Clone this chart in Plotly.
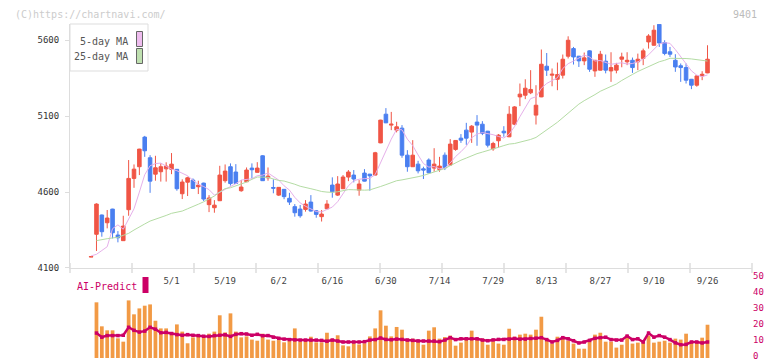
import plotly.graph_objects as go
import pandas as pd

# ---------------- data ----------------
opens = [4172, 4322, 4449, 4398, 4488, 4317, 4280, 4484, 4690, 4767,
         4962, 4826, 4718, 4734, 4753, 4750, 4750, 4589, 4665, 4679,
         4635, 4659, 4517, 4497, 4543, 4675, 4767, 4732, 4609, 4668,
         4758, 4730, 4839, 4694, 4630, 4580, 4618, 4559, 4504, 4488,
         4486, 4534, 4477, 4438, 4490, 4646, 4580, 4622, 4699, 4712,
         4613, 4725, 4718, 4712, 4924, 5113, 5041, 5008, 5021, 4843,
         4767, 4784, 4753, 4811, 4758, 4749, 4843, 4778, 4881, 4955,
         5008, 4995, 5061, 5047, 5001, 4885, 4938, 5001, 4964, 5047,
         5227, 5238, 5254, 5107, 5227, 5429, 5370, 5343, 5370, 5495,
         5545, 5495, 5464, 5530, 5398, 5403, 5462, 5398, 5403, 5475,
         5458, 5468, 5458, 5480, 5589, 5567, 5705, 5585, 5524, 5468,
         5432, 5420, 5343, 5304, 5365, 5385]
highs = [4175, 4526, 4452, 4482, 4490, 4343, 4444, 4811, 4782, 4885,
         4970, 4843, 4839, 4789, 4796, 4857, 4752, 4684, 4701, 4690,
         4675, 4662, 4580, 4547, 4773, 4782, 4789, 4784, 4679, 4762,
         4789, 4797, 4843, 4762, 4684, 4633, 4620, 4595, 4521, 4515,
         4547, 4580, 4482, 4482, 4547, 4697, 4705, 4712, 4745, 4745,
         4679, 4751, 4720, 4865, 5076, 5153, 5128, 5063, 5041, 4876,
         4942, 4806, 4767, 4822, 4889, 4832, 4861, 4949, 4942, 4982,
         5056, 5041, 5107, 5067, 5003, 4931, 4982, 5034, 5166, 5166,
         5315, 5343, 5403, 5304, 5539, 5516, 5414, 5453, 5506, 5626,
         5556, 5497, 5519, 5534, 5470, 5530, 5506, 5521, 5451, 5518,
         5521, 5486, 5512, 5545, 5640, 5699, 5707, 5600, 5556, 5508,
         5447, 5447, 5345, 5370, 5396, 5567]
lows = [4172, 4212, 4306, 4361, 4295, 4269, 4278, 4444, 4628, 4712,
        4832, 4595, 4675, 4669, 4669, 4718, 4609, 4554, 4574, 4620,
        4587, 4541, 4468, 4464, 4541, 4662, 4643, 4655, 4602, 4666,
        4690, 4728, 4673, 4675, 4592, 4574, 4553, 4515, 4438, 4431,
        4471, 4471, 4431, 4406, 4488, 4563, 4574, 4620, 4672, 4664,
        4576, 4670, 4609, 4710, 4922, 5054, 5008, 4993, 4826, 4734,
        4765, 4723, 4686, 4723, 4734, 4734, 4745, 4776, 4872, 4924,
        4911, 4924, 4905, 4975, 4894, 4872, 4894, 4964, 4962, 5041,
        5166, 5212, 5245, 5045, 5225, 5365, 5297, 5271, 5348, 5480,
        5440, 5424, 5436, 5392, 5359, 5401, 5382, 5326, 5382, 5422,
        5436, 5385, 5403, 5436, 5545, 5565, 5556, 5501, 5490, 5392,
        5326, 5315, 5278, 5294, 5337, 5383]
closes = [4175, 4521, 4339, 4429, 4332, 4299, 4376, 4690, 4751, 4883,
          4872, 4672, 4760, 4767, 4771, 4784, 4622, 4666, 4694, 4624,
          4646, 4554, 4561, 4514, 4712, 4738, 4656, 4657, 4633, 4745,
          4747, 4758, 4675, 4705, 4626, 4631, 4570, 4534, 4464, 4444,
          4521, 4475, 4453, 4455, 4521, 4602, 4653, 4699, 4732, 4686,
          4653, 4672, 4707, 4859, 5074, 5056, 5047, 5030, 4843, 4767,
          4843, 4740, 4745, 4727, 4784, 4771, 4760, 4916, 4940, 4942,
          4955, 5034, 5041, 4986, 4909, 4920, 4975, 4990, 5113, 5161,
          5245, 5284, 5276, 5172, 5442, 5403, 5376, 5374, 5475, 5600,
          5490, 5464, 5484, 5409, 5468, 5508, 5403, 5420, 5436, 5490,
          5468, 5420, 5475, 5530, 5628, 5666, 5582, 5513, 5508, 5424,
          5420, 5337, 5304, 5365, 5376, 5475]

# moving-average values at the start of the window (read from the picture,
# they depend on days before the first visible candle)
ma5_head = [4180, 4190, 4215, 4240]
ma25_head = [None, 4280, 4288, 4293, 4298, 4302, 4315, 4328, 4350, 4372,
             4390, 4409, 4420, 4431, 4446, 4460, 4468, 4475, 4490, 4503,
             4520, 4536, 4555, 4574]

volume = [None, 34.8, 19.8, 17.3, 17.3, 12.3, 10.2, 36.0, 27.3, 31.0,
          32.7, 33.5, 23.3, 18.5, 18.5, 16.0, 21.0, 16.5, 9.2, 12.9,
          13.3, 13.3, 15.2, 16.5, 26.7, 16.0, 27.9, 16.5, 12.9, 13.5,
          11.5, 10.8, 15.2, 11.5, 10.8, 11.2, 9.8, 10.6, 18.5, 10.2,
          10.6, 13.3, 9.8, 9.8, 15.8, 12.1, 14.2, 7.9, 7.3, 9.2,
          8.5, 9.2, 13.5, 18.5, 29.8, 20.2, 13.5, 19.4, 17.7, 12.1,
          12.1, 10.6, 8.3, 17.1, 19.2, 12.1, 13.1, 14.0, 7.7, 9.6,
          12.1, 17.1, 12.1, 12.1, 8.3, 10.4, 9.0, 8.3, 18.3, 13.3,
          14.6, 15.2, 14.6, 17.7, 25.8, 12.1, 9.0, 13.3, 12.1, 10.8,
          9.0, 5.8, 5.8, 10.8, 14.6, 15.8, 10.2, 10.2, 6.5, 8.3,
          14.0, 9.0, 9.6, 10.2, 14.0, 9.6, 10.2, 10.8, 9.6, 12.1,
          11.5, 15.2, 10.2, 10.2, 12.7, 20.8]

ai_predict = [None, 15.6, 13.0, 14.0, 14.0, 14.0, 14.2, 19.2, 17.3, 16.2,
              16.8, 19.2, 18.0, 15.8, 16.0, 15.3, 14.6, 14.2, 14.6, 14.2,
              14.0, 13.6, 13.5, 14.0, 14.2, 14.5, 13.5, 14.8, 15.2, 15.0,
              14.2, 14.8, 13.9, 14.0, 13.0, 12.3, 11.8, 11.5, 11.3, 11.2,
              11.2, 11.2, 11.2, 11.0, 10.5, 11.2, 10.6, 10.0, 10.0, 10.0,
              10.0, 10.2, 11.2, 11.5, 12.5, 11.6, 11.4, 11.8, 11.6, 11.2,
              11.0, 10.7, 10.6, 10.6, 10.6, 10.2, 11.2, 12.7, 11.5, 12.0,
              12.0, 12.0, 12.0, 11.2, 10.8, 11.3, 11.6, 11.6, 11.8, 12.2,
              11.8, 11.8, 12.2, 12.4, 12.7, 11.5, 10.0, 11.0, 12.7, 12.0,
              10.8, 9.4, 10.0, 11.0, 12.3, 12.7, 13.0, 11.5, 11.2, 11.2,
              13.7, 11.5, 12.0, 10.0, 15.6, 13.0, 14.0, 13.0, 11.5, 9.5,
              8.3, 8.5, 10.0, 10.0, 9.4, 10.0]

date_labels = ["5/1", "5/19", "6/2", "6/16", "6/30", "7/14",
               "7/29", "8/13", "8/27", "9/10", "9/26"]
date_label_index = [15, 25, 35, 45, 55, 65, 75, 85, 95, 105, 115]
price_ticks = [4100, 4600, 5100, 5600]
ai_ticks = [0, 10, 20, 30, 40, 50]

# ---------------- derived series ----------------
idx = list(range(len(closes)))
cs = pd.Series(closes, dtype=float)
r5 = cs.rolling(5).mean()
r25 = cs.rolling(25).mean()
ma5 = [ma5_head[i] if i < len(ma5_head) else r5[i] for i in idx]
ma25 = [ma25_head[i] if i < len(ma25_head) else r25[i] for i in idx]

# ---------------- style ----------------
FONT = "DejaVu Sans Mono"
UP = "#f05545"
DOWN = "#4a7ff0"
PINK = "#e6b0ea"
GREEN = "#b4dca4"
CRIMSON = "#cc0066"
ORANGE = "#f29a45"
AXIS = "#dddddd"

fig = go.Figure()

fig.add_trace(go.Candlestick(
    x=idx, open=opens, high=highs, low=lows, close=closes,
    increasing=dict(line=dict(color=UP, width=1), fillcolor=UP),
    decreasing=dict(line=dict(color=DOWN, width=1), fillcolor=DOWN),
    whiskerwidth=0, xaxis="x", yaxis="y", showlegend=False, hoverinfo="skip"))

fig.add_trace(go.Scatter(x=idx, y=ma5, mode="lines",
                         line=dict(color=PINK, width=1),
                         xaxis="x", yaxis="y", showlegend=False, hoverinfo="skip"))
fig.add_trace(go.Scatter(x=idx, y=ma25, mode="lines",
                         line=dict(color=GREEN, width=1),
                         xaxis="x", yaxis="y", showlegend=False, hoverinfo="skip"))

fig.add_trace(go.Bar(x=idx, y=volume, marker=dict(color=ORANGE, line=dict(width=0)),
                     width=0.7, xaxis="x2", yaxis="y2", showlegend=False, hoverinfo="skip"))
fig.add_trace(go.Scatter(x=idx, y=ai_predict, mode="lines+markers",
                         line=dict(color=CRIMSON, width=2.5),
                         marker=dict(color=CRIMSON, size=3.5, symbol="square"),
                         xaxis="x2", yaxis="y2", showlegend=False, hoverinfo="skip"))

XR = [-3.94, 123.3]
# the page body adds an 8px offset, so the figure is 8px smaller than the window
fig.update_layout(
    template="none",
    width=764, height=353,
    margin=dict(l=62, r=20, t=16, b=3, autoexpand=False),
    paper_bgcolor="white", plot_bgcolor="white",
    font=dict(family=FONT, size=9, color="#444"),
    boxgap=0.05,
    xaxis=dict(domain=[0, 1], anchor="y", range=XR, rangeslider=dict(visible=False),
               automargin=False,
               showline=True, linecolor=AXIS, linewidth=1, showgrid=False, zeroline=False,
               tickmode="array", tickvals=date_label_index, ticktext=date_labels,
               ticks="", tickfont=dict(family=FONT, size=9, color="#444"),
               ticklabelstandoff=4),
    yaxis=dict(domain=[0.2695, 1], anchor="x", range=[4100, 5707], automargin=False,
               showline=True, linecolor=AXIS, linewidth=1, showgrid=False, zeroline=False,
               tickmode="array", tickvals=price_ticks, ticks="outside", ticklen=4,
               tickcolor=AXIS, tickfont=dict(family=FONT, size=9, color="#333"),
               ticklabelstandoff=4),
    xaxis2=dict(domain=[0, 1], anchor="y2", matches="x", range=XR, visible=False,
                automargin=False),
    yaxis2=dict(domain=[0, 0.2395], anchor="x2", side="right", range=[0, 50],
                automargin=False, ticklabeloverflow="allow", ticklabelshift=-2,
                showline=False, showgrid=False, zeroline=False,
                tickmode="array", tickvals=ai_ticks, ticks="",
                tickfont=dict(family=FONT, size=9, color=CRIMSON)),
)

# window px -> paper helpers (layout decoration only)
def px(xp):
    return (xp - 70) / 682.0

def py(yp):
    return (358 - yp) / 334.0

shapes = []
# bottom tick marks at regular divisions
for k in range(12):
    shapes.append(dict(type="line", xref="paper", yref="paper",
                       x0=k / 11, x1=k / 11, y0=py(263), y1=py(273),
                       line=dict(color=AXIS, width=1.5)))
# legend box
shapes.append(dict(type="rect", xref="paper", yref="paper",
                   x0=px(70), x1=px(148), y0=py(71), y1=py(24),
                   line=dict(color="#dddddd", width=1), fillcolor="white", layer="above"))
shapes.append(dict(type="rect", xref="paper", yref="paper",
                   x0=px(136.5), x1=px(142.5), y0=py(46.5), y1=py(31.5),
                   line=dict(color="#666", width=1), fillcolor="#eebcee", layer="above"))
shapes.append(dict(type="rect", xref="paper", yref="paper",
                   x0=px(136.5), x1=px(142.5), y0=py(63.5), y1=py(48.5),
                   line=dict(color="#666", width=1), fillcolor="#bfe0b0", layer="above"))
# AI-Predict swatch
shapes.append(dict(type="rect", xref="paper", yref="paper",
                   x0=px(142.5), x1=px(148.5), y0=py(293), y1=py(277),
                   line=dict(width=0), fillcolor=CRIMSON))
fig.update_layout(shapes=shapes)

annotations = [
    dict(text="(C)https://chartnavi.com/", x=px(14), y=py(8), xref="paper", yref="paper",
         xanchor="left", yanchor="top", showarrow=False, borderpad=0,
         font=dict(family=FONT, size=10, color="#cccccc")),
    dict(text="9401", x=px(758), y=py(8), xref="paper", yref="paper",
         xanchor="right", yanchor="top", showarrow=False, borderpad=0,
         font=dict(family=FONT, size=10, color="#bbbbbb")),
    dict(text="5-day MA", x=px(130), y=py(41), xref="paper", yref="paper",
         xanchor="right", yanchor="middle", showarrow=False,
         font=dict(family=FONT, size=10, color="#555")),
    dict(text="25-day MA", x=px(130), y=py(57), xref="paper", yref="paper",
         xanchor="right", yanchor="middle", showarrow=False,
         font=dict(family=FONT, size=10, color="#555")),
    dict(text="AI-Predict", x=px(75), y=py(286), xref="paper", yref="paper",
         xanchor="left", yanchor="middle", showarrow=False,
         font=dict(family=FONT, size=10, color=CRIMSON)),
]
fig.update_layout(annotations=annotations)

fig.write_html("out.html")
